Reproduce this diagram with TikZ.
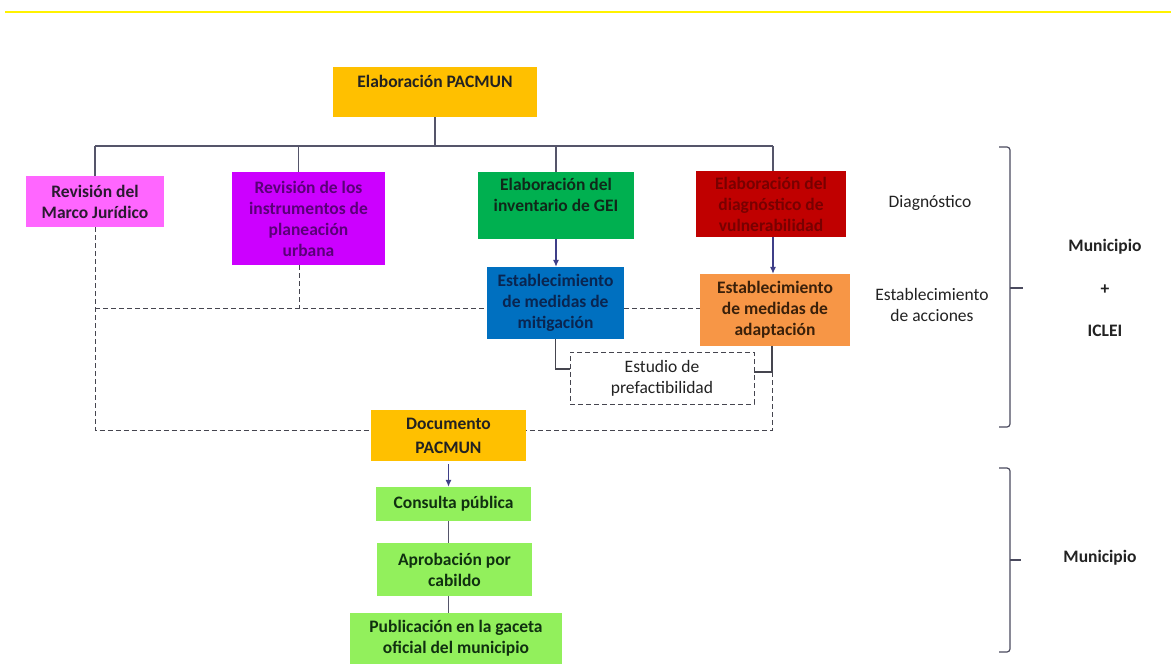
\documentclass[tikz,border=0pt]{standalone}
\usepackage{fontspec}
\setmainfont{Carlito}
\usetikzlibrary{arrows.meta}
\definecolor{cPac}{HTML}{FFC000}
\definecolor{cMarco}{HTML}{FF66FF}
\definecolor{cInstr}{HTML}{CC00FF}
\definecolor{cGei}{HTML}{00B050}
\definecolor{cVul}{HTML}{C00000}
\definecolor{cMit}{HTML}{0070C0}
\definecolor{cAda}{HTML}{F79646}
\definecolor{cVerde}{HTML}{92F05C}
\definecolor{tDark}{HTML}{222222}
\definecolor{tMarco}{HTML}{2A1A30}
\definecolor{tInstr}{HTML}{5A0078}
\definecolor{tGei}{HTML}{10281A}
\definecolor{tVul}{HTML}{780000}
\definecolor{tMit}{HTML}{0A2550}
\definecolor{tAda}{HTML}{3A200A}
\definecolor{tVerde}{HTML}{103010}
\definecolor{lineg}{HTML}{55556A}
\definecolor{dashg}{HTML}{45454F}
\definecolor{arrowc}{HTML}{3F3F88}
\definecolor{braceg}{HTML}{4A4A5E}
\definecolor{topyel}{HTML}{FFF200}
\tikzset{
  box/.style={rectangle, inner sep=0pt, align=center, font=\bfseries\fontsize{17.5}{21}\selectfont},
  conn/.style={draw=lineg, line width=1.1pt},
  dsh/.style={draw=dashg, line width=0.9pt, dash pattern=on 5pt off 3pt},
  arr/.style={draw=arrowc, line width=1.1pt, -{Latex[length=7pt,width=6pt]}},
  lbl/.style={font=\fontsize{17.5}{21}\selectfont, align=center, text=tDark},
  blbl/.style={font=\bfseries\fontsize{17.5}{21}\selectfont, align=center, text=tDark},
  bracket/.style={draw=braceg, line width=1.2pt, rounded corners=3pt},
}
\begin{document}
\begin{tikzpicture}[x=1pt,y=-1pt]
\useasboundingbox (0,0) rectangle (1171,671);
\draw[topyel, line width=1.5pt] (5,12) -- (1171,12);

% boxes
\node[box, fill=cPac, text=tDark, minimum width=204pt, minimum height=50pt] (pac) at (435,92) {Elaboración PACMUN\\\mbox{}};
\node[box, fill=cMarco, text=tMarco, minimum width=138pt, minimum height=51pt] (marco) at (95,201.5) {Revisión del\\Marco Jurídico};
\node[box, fill=cInstr, text=tInstr, minimum width=153pt, minimum height=93pt] (instr) at (308.5,218.5) {Revisión de los\\instrumentos de\\planeación\\urbana};
\node[box, fill=cGei, text=tGei, minimum width=156pt, minimum height=67pt] (gei) at (556,205.5) {Elaboración del\\inventario de GEI\\\mbox{}};
\node[box, fill=cVul, text=tVul, minimum width=150pt, minimum height=66pt] (vul) at (771,204) {Elaboración del\\diagnóstico de\\vulnerabilidad};
\node[box, fill=cMit, text=tMit, minimum width=137pt, minimum height=72pt] (mit) at (555.5,303) {Establecimiento\\de medidas de\\mitigación};
\node[box, fill=cAda, text=tAda, minimum width=150pt, minimum height=72pt] (ada) at (775,310) {Establecimiento\\de medidas de\\adaptación};
\node[box, draw=dashg, line width=0.9pt, dash pattern=on 5pt off 3pt, fill=white, font=\fontsize{17.5}{21}\selectfont, text=tDark, minimum width=184pt, minimum height=52pt] (est) at (662,378) {Estudio de\\prefactibilidad};
\node[box, fill=cPac, text=tDark, font=\bfseries\fontsize{17.5}{24}\selectfont, minimum width=155pt, minimum height=51pt] (doc) at (448.5,435.5) {Documento\\PACMUN};
\node[box, fill=cVerde, text=tVerde, minimum width=155pt, minimum height=34pt] (cons) at (453.5,504) {Consulta pública};
\node[box, fill=cVerde, text=tVerde, minimum width=155pt, minimum height=53pt] (apr) at (454.5,569.5) {Aprobación por\\cabildo};
\node[box, fill=cVerde, text=tVerde, minimum width=212pt, minimum height=51pt] (pub) at (456,638.5) {Publicación en la gaceta\\oficial del municipio};

% right labels
\node[lbl] (diag) at (930,203) {Diagnóstico};
\node[lbl] (acc) at (932,305) {Establecimiento\\de acciones};
\node[blbl] (mun1) at (1105,247) {Municipio};
\node[blbl] (plus) at (1105,290) {+};
\node[blbl] (iclei) at (1105,331) {ICLEI};
\node[blbl] (mun2) at (1100,558) {Municipio};

% tree connectors
\coordinate (bL) at (95,146);
\coordinate (bR) at (773,146);
\draw[conn] (pac.south) -- (pac.south |- bL);
\draw[conn] (bL) -- (bR);
\draw[conn] (bL) -- (marco.north);
\draw[conn] ([xshift=-10pt]instr.north |- bL) -- ([xshift=-10pt]instr.north);
\draw[conn] (gei.north |- bL) -- (gei.north);
\draw[conn] (bR) -- (bR |- vul.north);
\draw[arr] (gei.south) -- (gei.south |- mit.north);
\draw[arr] (bR |- vul.south) -- (bR |- ada.north);

% dashed connectors
\coordinate (hl) at (95,308);
\draw[dsh] (marco.south) |- ([yshift=5pt]doc.west);
\draw[dsh] (hl) -- (hl -| mit.west);
\draw[dsh] (hl -| mit.east) -- (hl -| ada.west);
\draw[dsh] ([xshift=-9pt]instr.south) -- ([xshift=-9pt]instr.south |- hl);

% estudio connectors
\coordinate (aj) at ([xshift=-3pt]ada.south);
\draw[conn, draw=dashg] (mit.south) |- ([yshift=9pt]est.west);
\draw[conn, draw=dashg] (aj) |- ([yshift=6pt]est.east);
\draw[dsh] ([yshift=6pt]est.east -| aj) |- ([yshift=5pt]doc.east);

% lower chain
\draw[arr, shorten <=3pt] (doc.south) -- (doc.south |- cons.north);
\draw[conn] (cons.south -| doc.south) -- (apr.north -| doc.south);
\draw[conn] (apr.south -| doc.south) -- (pub.north -| doc.south);

% brackets
\draw[bracket] (999,147) -- (1010,147) -- (1010,427) -- (999,427);
\draw[braceg, line width=1.2pt] (1010,288) -- (1023,288);
\draw[bracket] (999,468) -- (1010,468) -- (1010,652) -- (999,652);
\draw[braceg, line width=1.2pt] (1010,560) -- (1021,560);
\end{tikzpicture}
\end{document}
